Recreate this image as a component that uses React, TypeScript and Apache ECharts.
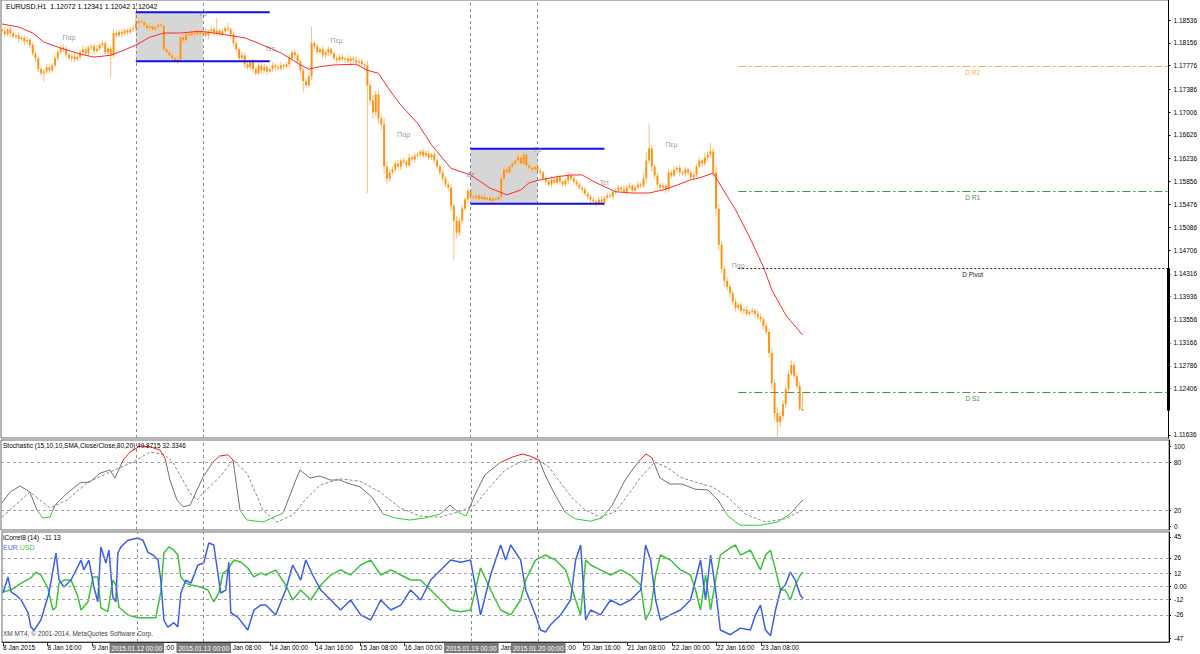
import React, { useEffect, useRef } from "react";
import * as echarts from "echarts";

// ---- price data (pips above 1.1000) ----
const firstOpen = 838;
const closePips = [
  835, 830, 838, 832, 826, 828, 822, 824, 818, 821,
  812, 798, 790, 772, 765, 768, 775, 770, 778, 790,
  800, 808, 805, 796, 790, 793, 788, 792, 800, 805,
  798, 808, 810, 802, 806, 812, 815, 800, 806, 795,
  832, 828, 834, 831, 836, 833, 838, 840, 848, 852,
  850, 845, 840, 843, 838, 842, 846, 844, 805, 800,
  795, 790, 785, 788, 825, 820, 830, 828, 832, 830,
  834, 831, 833, 828, 835, 838, 832, 836, 830, 835,
  840, 838, 830, 815, 805, 790, 795, 780, 775, 785,
  772, 765, 778, 770, 775, 768, 772, 778, 775, 773,
  778, 776, 780, 790, 800, 795, 785, 770, 752, 745,
  760, 815, 810, 800, 805, 795, 800, 805, 798, 790,
  787, 792, 788, 790, 785, 790, 787, 783, 785, 780,
  778, 745, 720, 700, 730, 690, 680, 610, 590, 600,
  605, 615, 610, 620, 618, 612, 625, 622, 628, 630,
  635, 628, 632, 625, 630, 620, 610, 600, 590, 580,
  575, 545, 520, 500, 520, 540, 555, 570, 560, 558,
  562, 556, 560, 555, 558, 553, 557, 555, 560, 590,
  605, 600, 610, 615, 620, 625, 615, 630, 612, 608,
  605, 610, 603, 600, 590, 585, 580, 588, 583, 592,
  585, 580, 587, 595, 590, 585, 580, 575, 572, 565,
  560, 555, 552, 548, 555, 550, 558, 562, 560, 568,
  570, 575, 572, 568, 575, 578, 570, 575, 580, 578,
  590, 620, 640, 610, 595, 580, 575, 578, 572, 600,
  595, 605, 608, 600, 598, 605, 600, 592, 596, 610,
  620, 615, 625, 630, 635, 600, 540, 480, 440, 420,
  410, 400, 385, 375, 380, 370, 372, 365, 368, 370,
  365, 360, 356, 345, 335, 300, 250, 200, 185, 195,
  215, 240, 265, 280, 262, 245, 207, 204,
];
const upWick = [
  4, 6, 3, 5, 4, 3, 5, 3, 4, 6, 3, 5, 4, 3, 5, 4, 6, 3, 4, 5,
  4, 3, 5, 6, 3, 4, 5, 3, 4, 6, 5, 3, 4, 4, 6, 3, 5, 4, 3, 5,
  6, 4, 3, 5, 4, 3, 4, 6, 18, 5, 4, 6, 3, 5, 4, 3, 5, 4, 3, 4,
  5, 3, 4, 6, 3, 5, 4, 3, 6, 4, 5, 3, 4, 6, 3, 5, 4, 21, 3, 5,
  4, 9, 3, 5, 4, 3, 6, 4, 5, 3, 4, 3, 5, 4, 6, 3, 4, 5, 3, 4,
  5, 3, 4, 6, 3, 5, 4, 3, 4, 5, 6, 27, 4, 5, 3, 6, 4, 5, 3, 4,
  3, 5, 4, 3, 5, 4, 3, 6, 4, 5, 3, 8, 6, 9, 5, 7, 6, 10, 8, 6,
  5, 4, 6, 3, 5, 4, 6, 3, 5, 4, 3, 5, 4, 6, 3, 5, 4, 3, 6, 4,
  5, 6, 4, 8, 5, 6, 4, 5, 3, 4, 5, 3, 4, 6, 3, 5, 4, 3, 5, 6,
  4, 5, 6, 4, 5, 15, 4, 6, 3, 5, 4, 3, 5, 4, 3, 5, 4, 6, 3, 4,
  5, 3, 4, 6, 3, 5, 4, 3, 4, 5, 3, 4, 5, 3, 4, 6, 3, 5, 4, 3,
  5, 4, 3, 6, 4, 5, 3, 4, 6, 3, 8, 15, 40, 6, 4, 5, 3, 4, 3, 6,
  4, 5, 3, 6, 4, 5, 3, 4, 6, 5, 6, 4, 8, 5, 14, 6, 10, 8, 6, 5,
  6, 5, 4, 6, 4, 5, 3, 6, 4, 5, 3, 6, 5, 4, 6, 5, 8, 6, 10, 8,
  6, 5, 7, 8, 6, 5, 8, 27,
];
const dnWick = [
  3, 5, 4, 6, 3, 4, 5, 3, 6, 4, 5, 4, 6, 5, 4, 14, 4, 5, 3, 4,
  5, 3, 4, 5, 3, 6, 4, 3, 5, 4, 3, 5, 4, 6, 3, 4, 5, 3, 4, 36,
  5, 4, 3, 6, 4, 5, 3, 4, 5, 4, 3, 5, 4, 6, 3, 4, 5, 3, 6, 5,
  4, 6, 1, 5, 4, 3, 5, 4, 3, 6, 4, 5, 3, 4, 6, 3, 5, 4, 3, 5,
  4, 3, 6, 5, 4, 6, 5, 7, 4, 5, 6, 4, 3, 5, 4, 6, 3, 4, 5, 3,
  4, 5, 3, 6, 4, 5, 3, 6, 19, 5, 4, 6, 5, 4, 3, 5, 4, 6, 3, 4,
  5, 3, 4, 6, 3, 5, 4, 3, 5, 4, 6, 179, 8, 10, 6, 9, 8, 12, 10, 6,
  4, 5, 3, 6, 4, 5, 3, 4, 6, 3, 5, 4, 3, 5, 4, 6, 5, 4, 6, 5,
  6, 8, 66, 10, 6, 5, 4, 6, 5, 4, 6, 5, 4, 5, 6, 4, 5, 4, 6, 5,
  4, 5, 3, 6, 4, 5, 4, 3, 5, 4, 6, 3, 4, 5, 3, 6, 4, 5, 3, 4,
  5, 4, 3, 6, 4, 5, 3, 4, 6, 4, 5, 6, 4, 5, 3, 4, 5, 4, 3, 5,
  4, 3, 5, 4, 6, 3, 5, 4, 3, 5, 4, 6, 5, 8, 6, 4, 5, 3, 6, 4,
  5, 3, 4, 6, 3, 5, 4, 3, 5, 4, 3, 5, 4, 6, 5, 8, 12, 10, 8, 9,
  6, 8, 5, 6, 4, 5, 6, 4, 5, 3, 6, 4, 5, 6, 5, 8, 10, 12, 25, 8,
  6, 7, 5, 4, 6, 5, 4, 0,
];
// moving average (bar index, pips)
const maPoints = [
  [0, 847], [6, 842], [11, 832], [15, 817], [21, 807], [28, 797], [33, 792], [39, 795], [44, 804], [48, 812],
  [53, 825], [58, 832], [64, 832], [71, 835], [76, 832], [83, 827], [87, 824], [92, 815], [100, 799], [107, 779],
  [110, 772], [114, 776], [119, 779], [127, 780], [131, 770], [135, 765], [139, 737], [143, 712], [149, 682], [154, 646],
  [161, 607], [168, 596], [175, 574], [181, 563], [186, 571], [189, 583], [193, 588], [199, 593], [204, 596], [208, 596],
  [213, 583], [220, 568], [226, 566], [232, 566], [237, 571], [242, 579], [247, 588], [250, 591], [255, 599], [258, 576],
  [263, 538], [268, 493], [273, 443], [276, 405], [281, 363], [287, 330],
];
// stochastic (bar index, value)
const stochMain = [
  [0, 28.8], [2.9, 42.5], [6.5, 50], [10, 42.5], [12.5, 20], [14.7, 10], [17.2, 11], [19, 26], [23.3, 41], [28, 54],
  [31.5, 55], [35.1, 66], [38.7, 70], [40.5, 60], [43.4, 82.5], [45.9, 92.5], [49.5, 100], [53, 99], [56.6, 95], [58.4, 85],
  [60.2, 57.5], [62.7, 32.5], [64.9, 24], [67.4, 26], [72, 61], [75.6, 80], [78, 87.5], [81, 89], [82.8, 82.5], [85.3, 20],
  [87.8, 7.5], [93.5, 5], [100.7, 16], [105.7, 61], [106.8, 70], [110.4, 60], [114, 62.5], [117.6, 57.5], [121, 57.5], [124.7, 52.5],
  [128.3, 49], [132.6, 36], [136.6, 15], [140.9, 10], [146.2, 7.5], [151.6, 10], [157, 15], [160.6, 26], [163.4, 17.5], [166.3, 12.5],
  [169.5, 39], [173.1, 64], [178.4, 79], [182.8, 86], [186.4, 90], [189.2, 87.5], [192.5, 82.5], [194.6, 64], [198.2, 39], [201.8, 17.5],
  [205.4, 9], [210.8, 6], [215, 10], [218.7, 26], [223.3, 57.5], [228, 80], [230.8, 90], [233, 85], [235.8, 60], [239.4, 52.5],
  [243.7, 52.5], [248.4, 46], [253, 45], [256.6, 32.5], [260.2, 12.5], [264.5, 1], [271.7, 1], [278, 5], [282.4, 15], [285.3, 26],
  [287, 32.5],
];
const stochSignal = [
  [0, 11], [10, 42.5], [17.2, 22.5], [23.3, 32.5], [30.5, 54], [38.7, 67.5], [47, 80], [53, 92.5], [58.4, 89], [61.3, 79],
  [67.4, 41], [69.9, 32.5], [72, 41], [78, 61], [82.8, 82.5], [87.8, 66], [93.5, 20], [98.6, 5], [104.3, 14], [108.6, 32.5],
  [114, 51], [121, 59], [128.3, 56], [135.5, 42.5], [142.7, 22.5], [149.8, 12.5], [157, 11], [163.4, 17.5], [169.5, 26], [174.9, 49],
  [180.3, 70], [185.7, 80], [191, 84], [195.7, 75], [200, 55], [204.3, 35], [209, 20], [214.3, 11], [219.7, 17.5], [224.4, 39],
  [228.7, 60], [234, 80], [238.7, 72.5], [243, 61], [248.4, 55], [254.5, 49], [260.2, 36], [266.3, 15], [273.5, 5], [280.6, 9],
  [287, 20],
];
// iCorrel8 (bar index, value)
const eurLine = [
  [0, -6], [1.8, 8.6], [2.9, -5], [4.7, -8], [6.5, -12.4], [9, -24], [10, -37], [11.1, -40], [13.6, -30.6], [16.5, -6],
  [19, 30.4], [20.1, 5.8], [21.9, -0.5], [24.4, 5.8], [28, 24], [29, 15], [30.8, 24], [32.6, -0.5], [34, -14], [35.1, 36],
  [36.9, 21.3], [38, 33], [39.4, -9.7], [40.5, -14], [41.2, 30.4], [42.3, 36], [44.8, 42], [48.4, 44], [50.2, 42], [52, 31],
  [53.8, 28.6], [55.6, 24], [56.6, 5.8], [57.7, -30.6], [59.1, -37], [61.3, -33], [62.7, -37], [63.8, -6], [65.6, 5.8], [67.4, 3],
  [69.9, 19.5], [72, 21.3], [73.8, 39.5], [75.6, 37.7], [78.1, -6], [79.9, -3.3], [81, 22], [81.7, -24], [84.2, -28], [87.8, -39.7],
  [90, -21.5], [92.5, -17], [94.3, -17], [97.8, -26], [101.4, -3.3], [103.9, 19.5], [106.8, 5.8], [108.6, 24], [111.1, 10.4], [114, -3.3],
  [117.6, -12.4], [121.1, -21.5], [124.7, -12.4], [128.3, -26], [131.9, -30.6], [135.5, -12.4], [139.1, -21.5], [142.7, -17], [146.2, -3.3], [149.8, -12.4],
  [153.4, 5.8], [157, 15], [160.6, 24], [164.2, 22], [167.7, 24], [171.3, -26], [174.9, 10.4], [178.5, 37.7], [180.3, 24], [182.1, 37.7],
  [185.7, 24], [187.5, -3.3], [191, -26], [192.8, -39.7], [194.6, -41.5], [196.4, -35], [200, -26], [203.6, -12.4], [205.4, 24], [207.2, 37.7],
  [209, -30.6], [210.8, -21.5], [214.3, -26], [217.9, -12.4], [221.5, -17], [225.1, -12.4], [228.7, -3.3], [230.5, 37.7], [232.3, 24], [234.1, -12.4],
  [235.8, -30.6], [239.4, -26], [243, -21.5], [246.6, -12.4], [248.4, 5.8], [250.2, 24], [252, -12.4], [253.8, 28.6], [255.6, -3.3], [257.3, -39.7],
  [260.9, -44], [264.5, -38], [268.1, -39.7], [269.9, -26], [271.7, -17], [273.5, -39.7], [275.3, -45], [277.1, -21.5], [278.9, -3.3], [280.6, 1.3],
  [282.4, 13], [284.2, 5.8], [286, -8], [287, -11],
];
const usdLine = [
  [0, -5], [2.9, -3.3], [4.7, -0.5], [6.5, 3], [10, 7.7], [11.8, 13], [13.6, 10.4], [16.1, -1.5], [17.9, -21.5], [19, -19],
  [20.1, 3], [21.9, 5.8], [24.4, 5.8], [26.9, -9.7], [28, -21.5], [30.5, -14], [32.3, 8.6], [34, 8.6], [35.1, -19.5], [37.6, -23],
  [39.4, 5.8], [40.5, 1.3], [41.6, -19], [44.8, -26], [48.4, -28.6], [52, -28.6], [54.8, -28.6], [56.6, -5], [57.7, 30.4], [59.5, 36],
  [61.3, 33], [62.7, 28.6], [63.8, 8.6], [65.6, 3], [67.4, 1.3], [71, -0.5], [73.5, -3.3], [75.6, -14], [77.4, -6], [78.9, 12.2],
  [80.6, 15], [82.8, 24], [85.3, 22], [87.8, 16.8], [90, 8.6], [92.5, 12.2], [94.3, 10.4], [97.8, 15], [101.4, 1.3], [103.9, -12.4],
  [106.8, -3.3], [110.4, -12.4], [114, 1.3], [117.6, 10.4], [121.1, 15], [124.7, 10.4], [128.3, 19.5], [131.9, 24], [135.5, 10.4], [139.1, 15],
  [142.7, 10.4], [146.2, 5.8], [149.8, 5.8], [153.4, -3.3], [157, -12.4], [160.6, -21.5], [164.2, -23], [167.7, -21.5], [171.3, 16.8], [174.9, -3.3],
  [178.5, -21.5], [182.1, -26], [185.7, -12.4], [187.5, 5.8], [191, 24], [194.6, 28.6], [198.2, 24], [201.8, 15], [205.4, -12.4], [207.2, -26],
  [209, 24], [210.8, 19.5], [214.3, 15], [217.9, 10.4], [221.5, 15], [225.1, 10.4], [228.7, 1.3], [230.5, -30.6], [232.3, -21.5], [234.1, 10.4],
  [235.8, 28.6], [239.4, 24], [243, 15], [246.6, 10.4], [248.4, -3.3], [250.2, -21.5], [252, 10.4], [253.8, -21.5], [255.6, 5.8], [257.3, 28.6],
  [260.9, 35], [262.7, 37.7], [264.5, 28.6], [268.1, 33], [269.9, 24], [271.7, 15], [273.5, 28.6], [275.3, 33], [277.1, 15], [278.9, -3.3],
  [280.6, -3.3], [282.4, -12.4], [284.2, 1.3], [286, 10.4], [287, 13],
];
// axis ticks
const priceTicks = [1.18536, 1.18156, 1.17776, 1.17386, 1.17006, 1.16626, 1.16236, 1.15856, 1.15476, 1.15086,
  1.14706, 1.14316, 1.13936, 1.13556, 1.13166, 1.12786, 1.12406, 1.11636];
const stochTicks = [100, 80, 20, 0];
const stochLevels = [80, 20];
const correlTicks = [45, 26, 12, 0, -12, -26, -47];
const correlLevels = [26, 12, 0, -12, -26];
const timeTickBars = [0, 16, 32, 48, 64, 80, 96, 112, 128, 144, 160, 176, 192, 208, 224, 240, 256, 272];
// visible parts of the time labels (the rest is covered by the highlighted date boxes)
const timeLabelBars = [0, 16, 32, 58.1, 82.4, 96, 112, 128, 144, 178.5, 202.2, 208, 224, 240, 256, 272];
const timeLabelTexts = ["8 Jan 2015", "8 Jan 16:00", "9 Jan", ":00", "Jan 08:00",
  "14 Jan 00:00", "14 Jan 16:00", "15 Jan 08:00", "16 Jan 00:00", "Jan", ":00",
  "20 Jan 16:00", "21 Jan 08:00", "22 Jan 00:00", "22 Jan 16:00", "23 Jan 08:00"];
const markedBars = [48, 72, 168, 192];
const markedLabels = ["2015.01.12 00:00", "2015.01.13 00:00", "2015.01.19 00:00", "2015.01.20 00:00"];
// day labels (bar, pips, text)
const dayLabels: [number, number, string][] = [
  [24, 824, "Παρ"], [72, 864, "Τρ"], [96, 807, "Τετ"], [120, 820, "Πεμ"], [144, 664, "Παρ"],
  [168, 596, "Δε"], [192, 639, "Τρ"], [216, 584, "Τετ"], [240, 646, "Πεμ"], [264, 446, "Παρ"],
];
// ranges: startBar, endBar(rect), endBar(lines), high, low
const ranges = [
  [48, 72, 96, 1.18664, 1.17849],
  [168, 192, 216, 1.16396, 1.15482],
];
const pivotNames = ["D R2", "D R1", "D Pivot", "D S1"];
const pivotValues = [1.17776, 1.15693, 1.14407, 1.12345];
const pivotColors = ["#FFA54A", "#3E9A3E", "#222222", "#3E9A3E"];
const pivotStart = 264;
const pivotLabelBar = 348;
const lastPrice = 1.12042;
const headerText = "EURUSD,H1  1.12072 1.12341 1.12042 1.12042";

const X_MIN = -0.36;
const X_MAX = 418.24;
const FONT = "Liberation Sans";
const FS = 6.5;

const P = (p: number) => +(1.1 + p / 10000).toFixed(5);

export default function App() {
  const ref = useRef<HTMLDivElement>(null);
  useEffect(() => {
    document.body.style.margin = "0";
    const chart = echarts.init(ref.current!, null, { renderer: "svg" });

    const candles = closePips.map((c, i) => {
      const o = i === 0 ? firstOpen : closePips[i - 1];
      const hi = Math.max(o, c) + upWick[i];
      const lo = Math.min(o, c) - dnWick[i];
      return [i, P(o), P(c), P(lo), P(hi)];
    });

    const vLines = markedBars.map((b) => ({ xAxis: b, lineStyle: { color: "#8a8a8a", type: [3, 3], width: 1 } }));
    const baseMark = { silent: true, symbol: ["none", "none"], label: { show: false }, animation: false };

    const xAxisBase = { type: "value", min: X_MIN, max: X_MAX, show: false, axisLine: { onZero: false } };

    const series: any[] = [
      {
        type: "custom", name: "rangeBoxes", xAxisIndex: 0, yAxisIndex: 0, z: 1, silent: true,
        data: ranges, encode: { x: [0, 1, 2], y: [3, 4] },
        renderItem: (params: any, api: any) => {
          const a = api.coord([api.value(0), api.value(3)]);
          const b = api.coord([api.value(1), api.value(4)]);
          return { type: "rect", shape: { x: a[0], y: a[1], width: b[0] - a[0], height: b[1] - a[1] }, style: { fill: "#d6d6d6" } };
        },
      },
      {
        type: "custom", name: "candles", xAxisIndex: 0, yAxisIndex: 0, z: 3, silent: true,
        data: candles, encode: { x: 0, y: [1, 2, 3, 4] },
        renderItem: (params: any, api: any) => {
          const x = api.value(0);
          const o = api.value(1), c = api.value(2), l = api.value(3), h = api.value(4);
          const pH = api.coord([x, h]);
          const pL = api.coord([x, l]);
          const pO = api.coord([x, o]);
          const pC = api.coord([x, c]);
          const w = Math.max(1, api.size([1, 0])[0] * 0.7);
          const top = Math.min(pO[1], pC[1]);
          const hh = Math.max(1, Math.abs(pO[1] - pC[1]));
          return {
            type: "group",
            children: [
              { type: "line", shape: { x1: pH[0], y1: pH[1], x2: pL[0], y2: pL[1] }, style: { stroke: "#FFBE70", lineWidth: 1 } },
              { type: "rect", shape: { x: pO[0] - w / 2, y: top, width: w, height: hh }, style: { fill: "#FF9210" } },
            ],
          };
        },
      },
      {
        type: "custom", name: "rangeLines", xAxisIndex: 0, yAxisIndex: 0, z: 5, silent: true,
        data: ranges, encode: { x: [0, 1, 2], y: [3, 4] },
        renderItem: (params: any, api: any) => {
          const a = api.coord([api.value(0), api.value(3)]);
          const b = api.coord([api.value(2), api.value(4)]);
          return {
            type: "group",
            children: [
              { type: "line", shape: { x1: a[0], y1: a[1], x2: b[0], y2: a[1] }, style: { stroke: "#1010ee", lineWidth: 2 } },
              { type: "line", shape: { x1: a[0], y1: b[1], x2: b[0], y2: b[1] }, style: { stroke: "#1010ee", lineWidth: 2 } },
            ],
          };
        },
      },
      {
        type: "custom", name: "pivots", xAxisIndex: 0, yAxisIndex: 0, z: 5, silent: true,
        data: pivotValues.map((v, k) => [pivotStart, v, pivotLabelBar, k]), encode: { x: [0, 2], y: 1 },
        renderItem: (params: any, api: any) => {
          const k = api.value(3);
          const a = api.coord([api.value(0), api.value(1)]);
          const lb = api.coord([api.value(2), api.value(1)]);
          const right = params.coordSys.x + params.coordSys.width;
          const y = Math.round(a[1]) + 0.5;
          return {
            type: "group",
            children: [
              { type: "line", shape: { x1: a[0], y1: y, x2: right, y2: y }, style: { stroke: pivotColors[k], lineWidth: 1, lineDash: k === 2 ? [2, 2] : [8, 3, 2, 3] } },
              { type: "text", x: lb[0], y: y + 2, style: { text: pivotNames[k], fill: pivotColors[k], fontSize: FS, fontFamily: FONT, align: "center", verticalAlign: "top" } },
            ],
          };
        },
      },
      {
        type: "line", name: "MA", xAxisIndex: 0, yAxisIndex: 0, z: 4, silent: true,
        data: maPoints.map(([i, p]) => [i, P(p)]), showSymbol: false, symbol: "none",
        lineStyle: { color: "#ff2a2a", width: 1 },
        markLine: {
          ...baseMark,
          data: [
            ...vLines,
            {
              yAxis: lastPrice, lineStyle: { opacity: 0, width: 0 },
              label: { show: true, position: "end", formatter: lastPrice.toFixed(5), backgroundColor: "#000", color: "#fff", fontSize: FS, fontFamily: FONT, padding: [2, 2, 1, 2], distance: 1 },
            },
            [
              { coord: [X_MAX, pivotValues[2]], lineStyle: { color: "#000", width: 3, type: "solid" } },
              { coord: [X_MAX, lastPrice], lineStyle: { color: "#000", width: 3, type: "solid" } },
            ],
          ],
        },
      },
      {
        type: "scatter", name: "days", xAxisIndex: 0, yAxisIndex: 0, z: 6, silent: true, symbolSize: 0,
        data: dayLabels.map(([b, p, t]) => ({ value: [b, P(p)], name: t })),
        label: { show: true, position: "inside", formatter: "{b}", color: "#7d7d7d", fontSize: 7, fontFamily: FONT },
      },
      {
        type: "line", name: "StochMain", xAxisIndex: 1, yAxisIndex: 1, z: 4, silent: true,
        data: stochMain, showSymbol: false, symbol: "none", lineStyle: { width: 1 },
        markLine: {
          ...baseMark,
          data: [
            ...stochLevels.map((v) => ({ yAxis: v, lineStyle: { color: "#a0a0a0", type: [3, 3], width: 1 } })),
            ...vLines,
          ],
        },
      },
      {
        type: "line", name: "StochSignal", xAxisIndex: 1, yAxisIndex: 1, z: 3, silent: true,
        data: stochSignal, showSymbol: false, symbol: "none",
        lineStyle: { color: "#8a8a8a", width: 1, type: [3, 2] },
      },
      {
        type: "line", name: "EUR", xAxisIndex: 2, yAxisIndex: 2, z: 4, silent: true,
        data: eurLine, showSymbol: false, symbol: "none",
        lineStyle: { color: "#3a5ee6", width: 1.5 },
        markLine: {
          ...baseMark,
          data: [
            ...correlLevels.map((v) => ({ yAxis: v, lineStyle: { color: "#a0a0a0", type: [3, 3], width: 1 } })),
            ...vLines,
          ],
        },
      },
      {
        type: "line", name: "USD", xAxisIndex: 2, yAxisIndex: 2, z: 3, silent: true,
        data: usdLine, showSymbol: false, symbol: "none",
        lineStyle: { color: "#36c436", width: 1.5 },
      },
    ];
    const stochIdx = series.findIndex((s) => s.name === "StochMain");

    const option: any = {
      animation: false,
      backgroundColor: "#ffffff",
      textStyle: { fontFamily: FONT },
      grid: [
        { left: 1, top: 0, width: 1168, height: 438, show: true, borderColor: "#6a6a6a", borderWidth: 1 },
        { left: 1, top: 440, width: 1168, height: 90, show: true, borderColor: "#6a6a6a", borderWidth: 1 },
        { left: 1, top: 532, width: 1168, height: 110, show: true, borderColor: "#6a6a6a", borderWidth: 1 },
      ],
      xAxis: [
        { ...xAxisBase, gridIndex: 0 },
        { ...xAxisBase, gridIndex: 1 },
        {
          type: "value", gridIndex: 2, min: X_MIN, max: X_MAX, position: "bottom",
          axisLine: { show: true, onZero: false, lineStyle: { color: "#333" } },
          axisTick: { show: true, length: 4, customValues: timeTickBars, lineStyle: { color: "#333" } },
          splitLine: { show: false },
          axisLabel: {
            customValues: timeLabelBars, align: "left", margin: 2, fontSize: FS, color: "#000", fontFamily: FONT,
            formatter: (v: number) => {
              const k = timeLabelBars.findIndex((b) => Math.abs(b - v) < 0.05);
              return k >= 0 ? timeLabelTexts[k] : "";
            },
          },
        },
        {
          type: "value", gridIndex: 2, min: X_MIN, max: X_MAX, position: "bottom",
          axisLine: { show: false, onZero: false }, axisTick: { show: false }, splitLine: { show: false },
          axisLabel: {
            customValues: markedBars, align: "center", margin: 1, fontSize: FS, color: "#ffffff", fontFamily: FONT,
            backgroundColor: "#7b7b7b", padding: [2, 2, 1, 2],
            formatter: (v: number) => markedLabels[markedBars.indexOf(Math.round(v))] ?? "",
          },
        },
      ],
      yAxis: [
        {
          type: "value", gridIndex: 0, position: "right", min: 1.11586, max: 1.18869, scale: true,
          axisLine: { show: true, onZero: false, lineStyle: { color: "#000" } },
          axisTick: { show: true, length: 2, customValues: priceTicks, lineStyle: { color: "#000" } },
          splitLine: { show: false },
          axisLabel: { customValues: priceTicks, fontSize: FS, color: "#000", margin: 5, fontFamily: FONT, formatter: (v: number) => v.toFixed(5) },
        },
        {
          type: "value", gridIndex: 1, position: "right", min: -5, max: 107.5,
          axisLine: { show: true, onZero: false, lineStyle: { color: "#000" } },
          axisTick: { show: true, length: 2, customValues: stochTicks, lineStyle: { color: "#000" } },
          splitLine: { show: false },
          axisLabel: { customValues: stochTicks, fontSize: FS, color: "#000", margin: 5, fontFamily: FONT },
        },
        {
          type: "value", gridIndex: 2, position: "right", min: -50.64, max: 49.55,
          axisLine: { show: true, onZero: false, lineStyle: { color: "#000" } },
          axisTick: { show: true, length: 2, customValues: correlTicks, lineStyle: { color: "#000" } },
          splitLine: { show: false },
          axisLabel: { customValues: correlTicks, fontSize: FS, color: "#000", margin: 5, fontFamily: FONT, formatter: (v: number) => (v === 0 ? "0.00" : String(v)) },
        },
      ],
      visualMap: [
        {
          type: "piecewise", show: false, seriesIndex: stochIdx, dimension: 1,
          pieces: [
            { lt: 20, color: "#2ed12e" },
            { gte: 20, lte: 80, color: "#707070" },
            { gt: 80, color: "#ff1a1a" },
          ],
        },
      ],
      series,
      graphic: [
        { type: "text", left: 6, top: 3, z: 100, style: { text: headerText, fontSize: 7, fontFamily: FONT, fill: "#000" } },
        { type: "text", left: 3, top: 442, z: 100, style: { text: "Stochastic (15,10,10,SMA,Close/Close,80,20) 49.8715 32.3346", fontSize: FS, fontFamily: FONT, fill: "#000" } },
        { type: "text", left: 3, top: 534, z: 100, style: { text: "iCorrel8 (14)  -11 13", fontSize: FS, fontFamily: FONT, fill: "#000" } },
        {
          type: "text", left: 3, top: 544, z: 100,
          style: {
            text: "{e|EUR} {u|USD}", fontSize: 7, fontFamily: FONT,
            rich: { e: { fill: "#4a6cf0", fontSize: 7, fontFamily: FONT }, u: { fill: "#3cc83c", fontSize: 7, fontFamily: FONT } },
          },
        },
        { type: "text", left: 3, top: 630, z: 100, style: { text: "XM MT4, © 2001-2014, MetaQuotes Software Corp.", fontSize: FS, fontFamily: FONT, fill: "#444" } },
      ],
    };

    chart.setOption(option);
    return () => chart.dispose();
  }, []);

  return <div ref={ref} style={{ position: "fixed", left: 0, top: 0, width: 1200, height: 654 }} />;
}
